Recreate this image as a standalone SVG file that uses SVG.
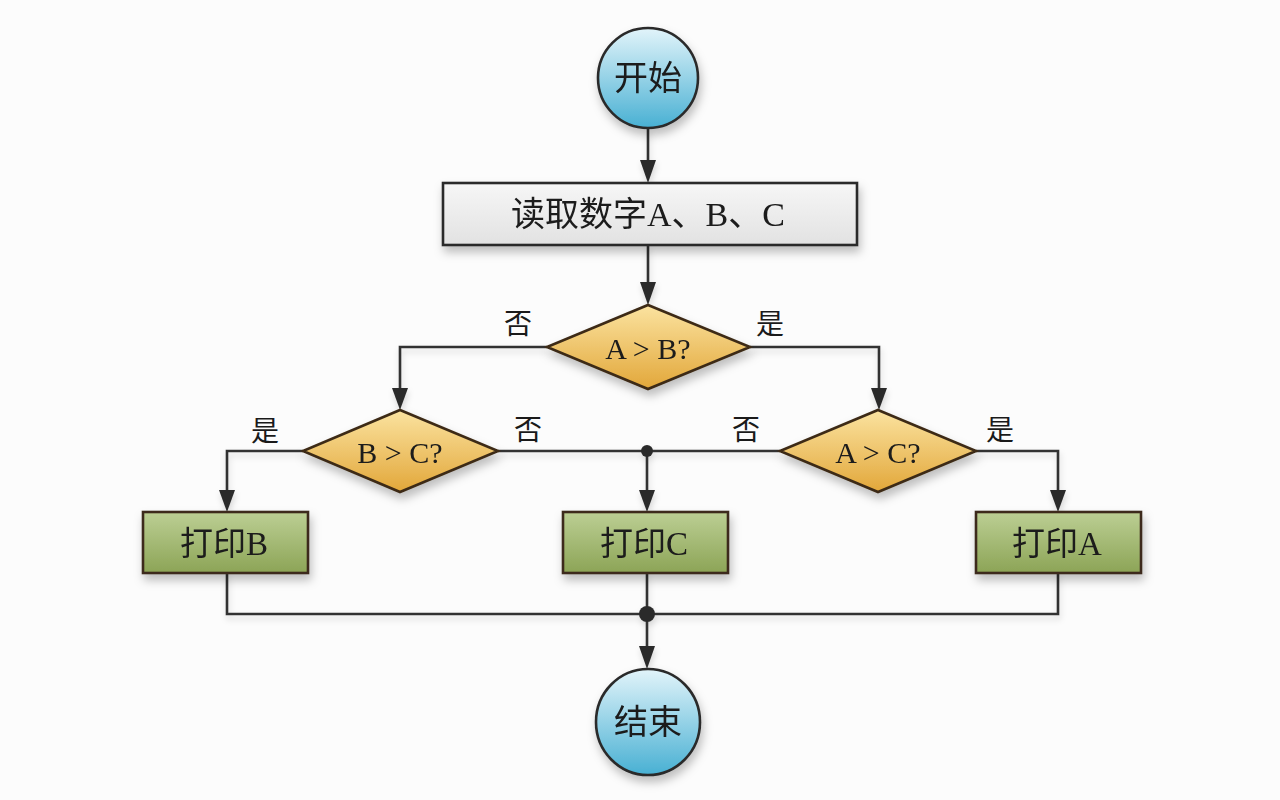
<svg xmlns="http://www.w3.org/2000/svg" width="1280" height="800" viewBox="0 0 1280 800">
<defs>
<style>
.ln{fill:none;stroke:#333;stroke-width:2.6;stroke-linejoin:miter}
.t{font-family:"Liberation Serif","Noto Sans CJK SC",serif;fill:#1a1a1a;text-anchor:middle;dominant-baseline:central}
.lb{font-size:28px}
.dot{fill:#2b2b2b}
.ah{fill:#2b2b2b}
.circ{fill:url(#gBlue);stroke:#2b2b2b;stroke-width:2.6}
.dia{fill:url(#gGold);stroke:#3d2b16;stroke-width:2.6}
.grn{fill:url(#gGreen);stroke:#3e2a1a;stroke-width:2.6}
</style>
<linearGradient id="gBlue" x1="0" y1="0" x2="0" y2="1">
<stop offset="0" stop-color="#e2f4fa"/><stop offset="1" stop-color="#48b0d3"/>
</linearGradient>
<linearGradient id="gGold" x1="0" y1="0" x2="0" y2="1">
<stop offset="0" stop-color="#fbe3a0"/><stop offset="1" stop-color="#e2a73a"/>
</linearGradient>
<linearGradient id="gGreen" x1="0" y1="0" x2="0" y2="1">
<stop offset="0" stop-color="#bccf94"/><stop offset="1" stop-color="#8ca456"/>
</linearGradient>
<linearGradient id="gGray" x1="0" y1="0" x2="0" y2="1">
<stop offset="0" stop-color="#f6f6f6"/><stop offset="1" stop-color="#e2e2e2"/>
</linearGradient>
<filter id="sh" x="-20%" y="-20%" width="140%" height="160%">
<feDropShadow dx="2" dy="6" stdDeviation="5" flood-color="#000" flood-opacity="0.25"/>
</filter>
<filter id="lsh" x="-5%" y="-5%" width="110%" height="120%">
<feDropShadow dx="1" dy="4" stdDeviation="3" flood-color="#000" flood-opacity="0.15"/>
</filter>
</defs>
<rect width="1280" height="800" fill="#fcfcfc"/>

<g id="connectors" filter="url(#lsh)">
<path class="ln" d="M648,128 V162"/>
<polygon class="ah" points="640,160 656,160 648,183"/>
<path class="ln" d="M648,245 V284"/>
<polygon class="ah" points="640,282 656,282 648,305"/>
<path class="ln" d="M547,347 H400 V390"/>
<polygon class="ah" points="392,388 408,388 400,410"/>
<path class="ln" d="M750,347 H879 V390"/>
<polygon class="ah" points="871,388 887,388 879,410"/>
<path class="ln" d="M303,451 H227 V492"/>
<polygon class="ah" points="219,490 235,490 227,512"/>
<path class="ln" d="M498,451 H780"/>
<path class="ln" d="M647,451 V492"/>
<polygon class="ah" points="639,490 655,490 647,512"/>
<path class="ln" d="M976,451 H1058 V492"/>
<polygon class="ah" points="1050,490 1066,490 1058,512"/>
<path class="ln" d="M227,573 V614 H1058 V573"/>
<path class="ln" d="M647,573 V648"/>
<polygon class="ah" points="639,646 655,646 647,669"/>
<circle class="dot" cx="647" cy="451" r="6"/>
<circle class="dot" cx="647" cy="614" r="8"/>
</g>

<g id="start" filter="url(#sh)">
<circle class="circ" cx="648" cy="78" r="50"/>
<text class="t" x="648" y="78" font-size="34">开始</text>
</g>

<g id="read" filter="url(#sh)">
<rect x="443" y="183" width="414" height="62" fill="url(#gGray)" stroke="#2b2b2b" stroke-width="2.6"/>
<text class="t" x="648" y="214" font-size="34">读取数字A、B、C</text>
</g>

<g id="d1" filter="url(#sh)">
<polygon class="dia" points="648,305 750,347 648,389 547,347"/>
<text class="t" x="648" y="348" font-size="30">A &gt; B?</text>
</g>

<g id="d2" filter="url(#sh)">
<polygon class="dia" points="400,410 498,451 400,492 303,451"/>
<text class="t" x="400" y="452" font-size="30">B &gt; C?</text>
</g>

<g id="d3" filter="url(#sh)">
<polygon class="dia" points="878,410 976,451 878,492 780,451"/>
<text class="t" x="878" y="452" font-size="30">A &gt; C?</text>
</g>

<g id="pB" filter="url(#sh)">
<rect class="grn" x="143" y="512" width="165" height="61"/>
<text class="t" x="224" y="544" font-size="33">打印B</text>
</g>

<g id="pC" filter="url(#sh)">
<rect class="grn" x="563" y="512" width="165" height="61"/>
<text class="t" x="644" y="544" font-size="33">打印C</text>
</g>

<g id="pA" filter="url(#sh)">
<rect class="grn" x="976" y="512" width="165" height="61"/>
<text class="t" x="1057" y="544" font-size="33">打印A</text>
</g>

<g id="end" filter="url(#sh)">
<ellipse class="circ" cx="648" cy="722" rx="52" ry="53"/>
<text class="t" x="648" y="722" font-size="34">结束</text>
</g>

<g id="labels">
<text class="t lb" x="518" y="324">否</text>
<text class="t lb" x="770" y="324">是</text>
<text class="t lb" x="265" y="431">是</text>
<text class="t lb" x="528" y="430">否</text>
<text class="t lb" x="746" y="430">否</text>
<text class="t lb" x="1000" y="430">是</text>
</g>
</svg>
